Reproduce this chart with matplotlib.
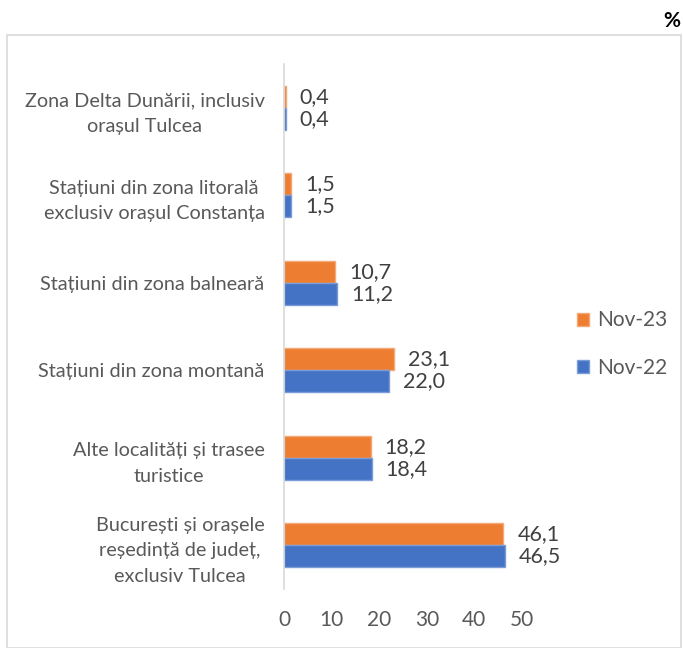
import matplotlib
matplotlib.use("Agg")
import matplotlib.pyplot as plt
from matplotlib.patches import Rectangle

categories = [
    "București și orașele\nreședință de județ,\nexclusiv Tulcea",
    "Alte localități și trasee\nturistice",
    "Stațiuni din zona montană",
    "Stațiuni din zona balneară",
    "Stațiuni din zona litorală\nexclusiv orașul Constanța",
    "Zona Delta Dunării, inclusiv\norașul Tulcea",
]
nov23 = [46.1, 18.2, 23.1, 10.7, 1.5, 0.4]
nov22 = [46.5, 18.4, 22.0, 11.2, 1.5, 0.4]
series_names = ["Nov-23", "Nov-22"]
xticks = [0, 10, 20, 30, 40, 50]

plt.rcParams['font.family'] = ['Lato', 'DejaVu Sans']

ORANGE = "#ED7D31"
BLUE = "#4472C4"
GRAY = "#595959"

fig = plt.figure(figsize=(6.83, 6.48), dpi=100)
ax = fig.add_axes([284/683, 1-589/648, (522-284)/683, (589-64)/648])

h = 0.25
ypos = list(range(len(categories)))
b23 = ax.barh([y + h/2 for y in ypos], nov23, height=h, color=ORANGE,
              edgecolor="#F4A877", linewidth=1.0, label=series_names[0])
b22 = ax.barh([y - h/2 for y in ypos], nov22, height=h, color=BLUE,
              edgecolor="#7C9CD8", linewidth=1.0, label=series_names[1])

for bars, vals in ((b23, nov23), (b22, nov22)):
    for bar, v in zip(bars, vals):
        ax.annotate(f"{v:.1f}".replace(".", ","),
                    xy=(bar.get_width(), bar.get_y() + bar.get_height()/2),
                    xytext=(10, 0), textcoords="offset points",
                    ha="left", va="center", fontsize=15.5, color="#404040")

ax.set_xlim(0, 50)
ax.set_ylim(-0.5, len(categories) - 0.5)
ax.set_xticks(xticks)
ax.set_xticklabels([str(t) for t in xticks])
ax.set_yticks(ypos)
ax.set_yticklabels(categories)
for lbl in ax.get_yticklabels():
    lbl.set_multialignment("center")
    lbl.set_linespacing(1.6)
ax.tick_params(axis="x", length=0, pad=15, labelsize=15, labelcolor=GRAY)
ax.tick_params(axis="y", length=0, pad=14, labelsize=14.3, labelcolor=GRAY)
for s in ("top", "right", "bottom"):
    ax.spines[s].set_visible(False)
ax.spines["left"].set_color("#D9D9D9")
ax.spines["left"].set_linewidth(1.2)

handles = [b23, b22]
leg = fig.legend(handles, series_names, loc="center left",
                 bbox_to_anchor=(558/683, 1-344/648), frameon=False,
                 fontsize=15, handlelength=0.6, handleheight=0.6,
                 handletextpad=0.4, labelspacing=1.3, labelcolor=GRAY)

fig.patches.append(Rectangle((7/683, 0.5/648), (681-7)/683, (648-35)/648 - 0.5/648,
                             transform=fig.transFigure, fill=False,
                             edgecolor="#D9D9D9", linewidth=1.2))
fig.text(672/683, 1-21/648, "%", ha="center", va="center",
         fontsize=15, fontweight="bold", color="black")

fig.savefig("out.png", dpi=100)
